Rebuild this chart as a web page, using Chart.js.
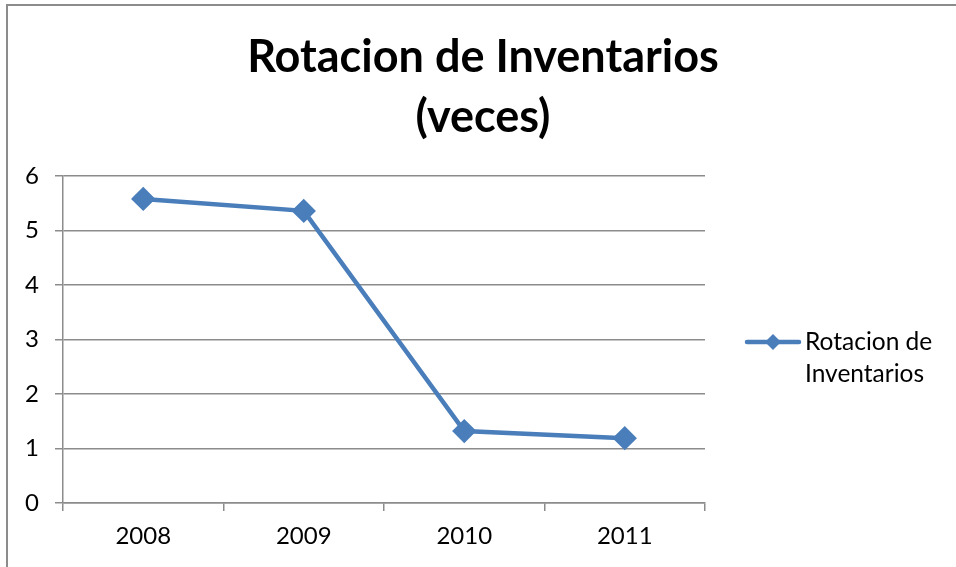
<!DOCTYPE html>
<html>
<head>
<meta charset="utf-8">
<script src="https://cdn.jsdelivr.net/npm/chart.js@4.4.0/dist/chart.umd.min.js"></script>
<style>
  html, body { margin: 0; padding: 0; background: #fff; }
  #wrap { position: relative; width: 956px; height: 567px; }
  #frame { position: absolute; left: 6px; top: 4px; right: 0; bottom: 0;
           border-top: 2px solid #8c8c8c; border-left: 2px solid #8c8c8c; }
  canvas { position: absolute; left: 0; top: 0; }
</style>
</head>
<body>
<div id="wrap">
  <div id="frame"></div>
  <canvas id="chart" width="956" height="567"></canvas>
</div>
<script>
// chart data
const years = ['2008', '2009', '2010', '2011'];
const rotacion = [5.58, 5.36, 1.32, 1.19];
const yTicks = [0, 1, 2, 3, 4, 5, 6];

const titleLines = ['Rotacion de Inventarios', '(veces)'];
const legendLines = ['Rotacion de', 'Inventarios'];

const BLUE = '#4a7ebb';
const GRID = '#8c8c8c';
const FONT = 'Lato, "Open Sans", sans-serif';

// draws the title and the two-line legend on the right
const decorations = {
  id: 'decorations',
  afterDraw(chart) {
    const ctx = chart.ctx;
    const ds = chart.data.datasets[0];
    ctx.save();

    ctx.fillStyle = '#000';
    ctx.textAlign = 'center';
    ctx.textBaseline = 'middle';
    ctx.font = 'bold 45px ' + FONT;
    titleLines.forEach((t, i) => ctx.fillText(t, 483, 57 + i * 60));

    // legend sample: line with a diamond
    const ly = 342;
    ctx.strokeStyle = ds.borderColor;
    ctx.lineWidth = ds.borderWidth;
    ctx.lineCap = 'round';
    ctx.beginPath();
    ctx.moveTo(747, ly);
    ctx.lineTo(799, ly);
    ctx.stroke();
    ctx.fillStyle = ds.pointBackgroundColor;
    ctx.beginPath();
    ctx.moveTo(773 - 8, ly);
    ctx.lineTo(773, ly - 8);
    ctx.lineTo(773 + 8, ly);
    ctx.lineTo(773, ly + 8);
    ctx.closePath();
    ctx.fill();

    ctx.fillStyle = '#000';
    ctx.textAlign = 'left';
    ctx.font = '24.5px ' + FONT;
    legendLines.forEach((t, i) => ctx.fillText(t, 805, ly + i * 32));
    ctx.restore();
  }
};

new Chart(document.getElementById('chart'), {
  type: 'line',
  data: {
    labels: years,
    datasets: [{
      label: 'Rotacion de Inventarios',
      data: rotacion,
      borderColor: BLUE,
      backgroundColor: BLUE,
      pointBackgroundColor: BLUE,
      pointBorderColor: BLUE,
      borderWidth: 4.5,
      pointStyle: 'rectRot',
      pointRadius: 9,
      pointHoverRadius: 9,
      tension: 0
    }]
  },
  options: {
    responsive: false,
    animation: false,
    events: [],
    layout: { padding: { left: 8, right: 251, top: 176, bottom: 20 } },
    plugins: {
      legend: { display: false },
      title: { display: false },
      tooltip: { enabled: false }
    },
    scales: {
      x: {
        offset: true,
        grid: { offset: true, drawOnChartArea: false, drawTicks: true, tickLength: 8, color: GRID, lineWidth: 1.5 },
        border: { color: GRID, width: 1.5 },
        ticks: { color: '#000', font: { family: FONT, size: 24 }, padding: 11 },
        afterFit: (s) => { s.height = 44; }
      },
      y: {
        min: 0,
        max: 6,
        afterBuildTicks: (s) => { s.ticks = yTicks.map(v => ({ value: v })); },
        grid: { color: GRID, lineWidth: 1.5, tickLength: 8 },
        border: { color: GRID, width: 1.5 },
        ticks: { color: '#000', font: { family: FONT, size: 24 }, padding: 16 },
        afterFit: (s) => { s.width = 55; }
      }
    }
  },
  plugins: [decorations]
});
</script>
</body>
</html>
